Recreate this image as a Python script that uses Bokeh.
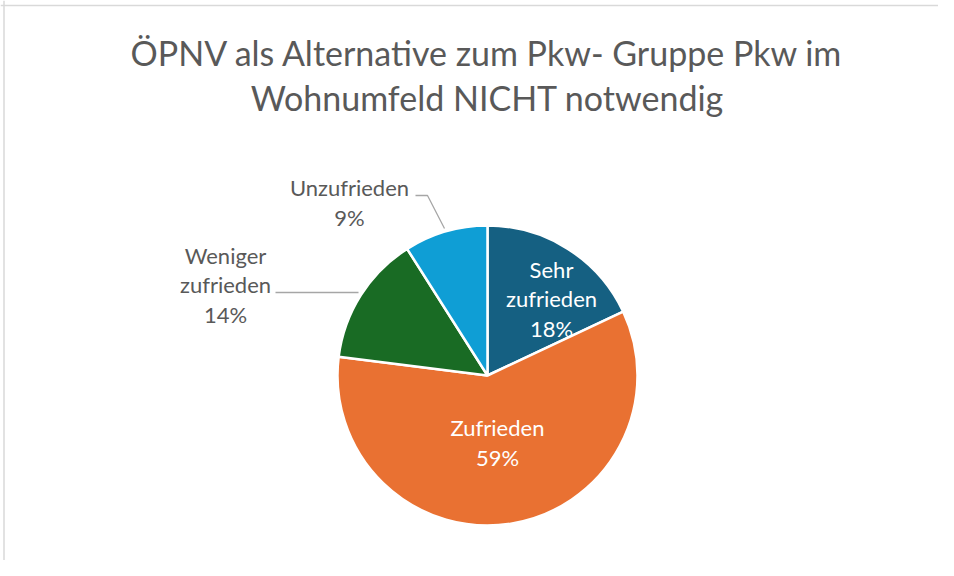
import math
from bokeh.plotting import figure
from bokeh.models import Range1d, Span
from bokeh.core.properties import value
from bokeh.embed import file_html
from bokeh.resources import INLINE

# ---- data ----
categories = ["Sehr zufrieden", "Zufrieden", "Weniger zufrieden", "Unzufrieden"]
shares = [18, 59, 14, 9]
colors = ["#156082", "#E97132", "#196B24", "#0F9ED5"]
label_texts = [["Sehr", "zufrieden"], ["Zufrieden"], ["Weniger", "zufrieden"], ["Unzufrieden"]]
label_colors = ["white", "white", "#595959", "#595959"]
title_lines = ["ÖPNV als Alternative zum Pkw- Gruppe Pkw im", "Wohnumfeld NICHT notwendig"]

# ---- layout (pixels of reference image) ----
W, H = 938, 560
FONT = "Lato"

def X(px):
    return px

def Y(py):
    return H - py

cx, cy, R = 487, 375, 150
label_pos = [(551, 298), (497, 442), (225, 284), (349, 202)]
LINE_STEP = 29.5

p = figure(width=W, height=H, output_backend="svg", toolbar_location=None,
           x_range=Range1d(0, W), y_range=Range1d(0, H), min_border=0)
p.axis.visible = False
p.grid.visible = False
p.outline_line_color = None
p.background_fill_color = "white"
p.border_fill_color = "white"

# border (top and left visible in reference)
p.add_layout(Span(location=Y(5), dimension="width", line_color="#d9d9d9", line_width=1.5))
p.add_layout(Span(location=X(3.5), dimension="height", line_color="#d9d9d9", line_width=1.5))

total = sum(shares)
cum = 0.0
starts, ends = [], []
for s in shares:
    starts.append(math.pi / 2 - 2 * math.pi * cum / total)
    cum += s
    ends.append(math.pi / 2 - 2 * math.pi * cum / total)

p.wedge(x=[X(cx)] * len(shares), y=[Y(cy)] * len(shares), radius=R,
        start_angle=starts, end_angle=ends, direction="clock",
        fill_color=colors, line_color="white", line_width=2.5)

# leader lines
p.line(x=[X(275), X(358)], y=[Y(292), Y(292)], line_color="#a6a6a6", line_width=1.3)
p.line(x=[X(415), X(427), X(444)], y=[Y(195), Y(195), Y(228)], line_color="#a6a6a6", line_width=1.3)

# labels
for parts, sh, col, (lx, ly) in zip(label_texts, shares, label_colors, label_pos):
    lines = parts + [f"{sh}%"]
    n = len(lines)
    ys = [Y(ly + (i - (n - 1) / 2) * LINE_STEP) for i in range(n)]
    p.text(x=[X(lx)] * n, y=ys, text=lines, text_align="center",
           text_baseline="middle", text_color=col, text_font=value(FONT),
           text_font_size="22px")

# title
for line, ty in zip(title_lines, [52, 97]):
    p.text(x=[X(487)], y=[Y(ty)], text=[line], text_align="center", text_baseline="middle",
           text_color="#595959", text_font=value(FONT), text_font_size="34px")

open("out.html", "w").write(file_html(p, INLINE))
